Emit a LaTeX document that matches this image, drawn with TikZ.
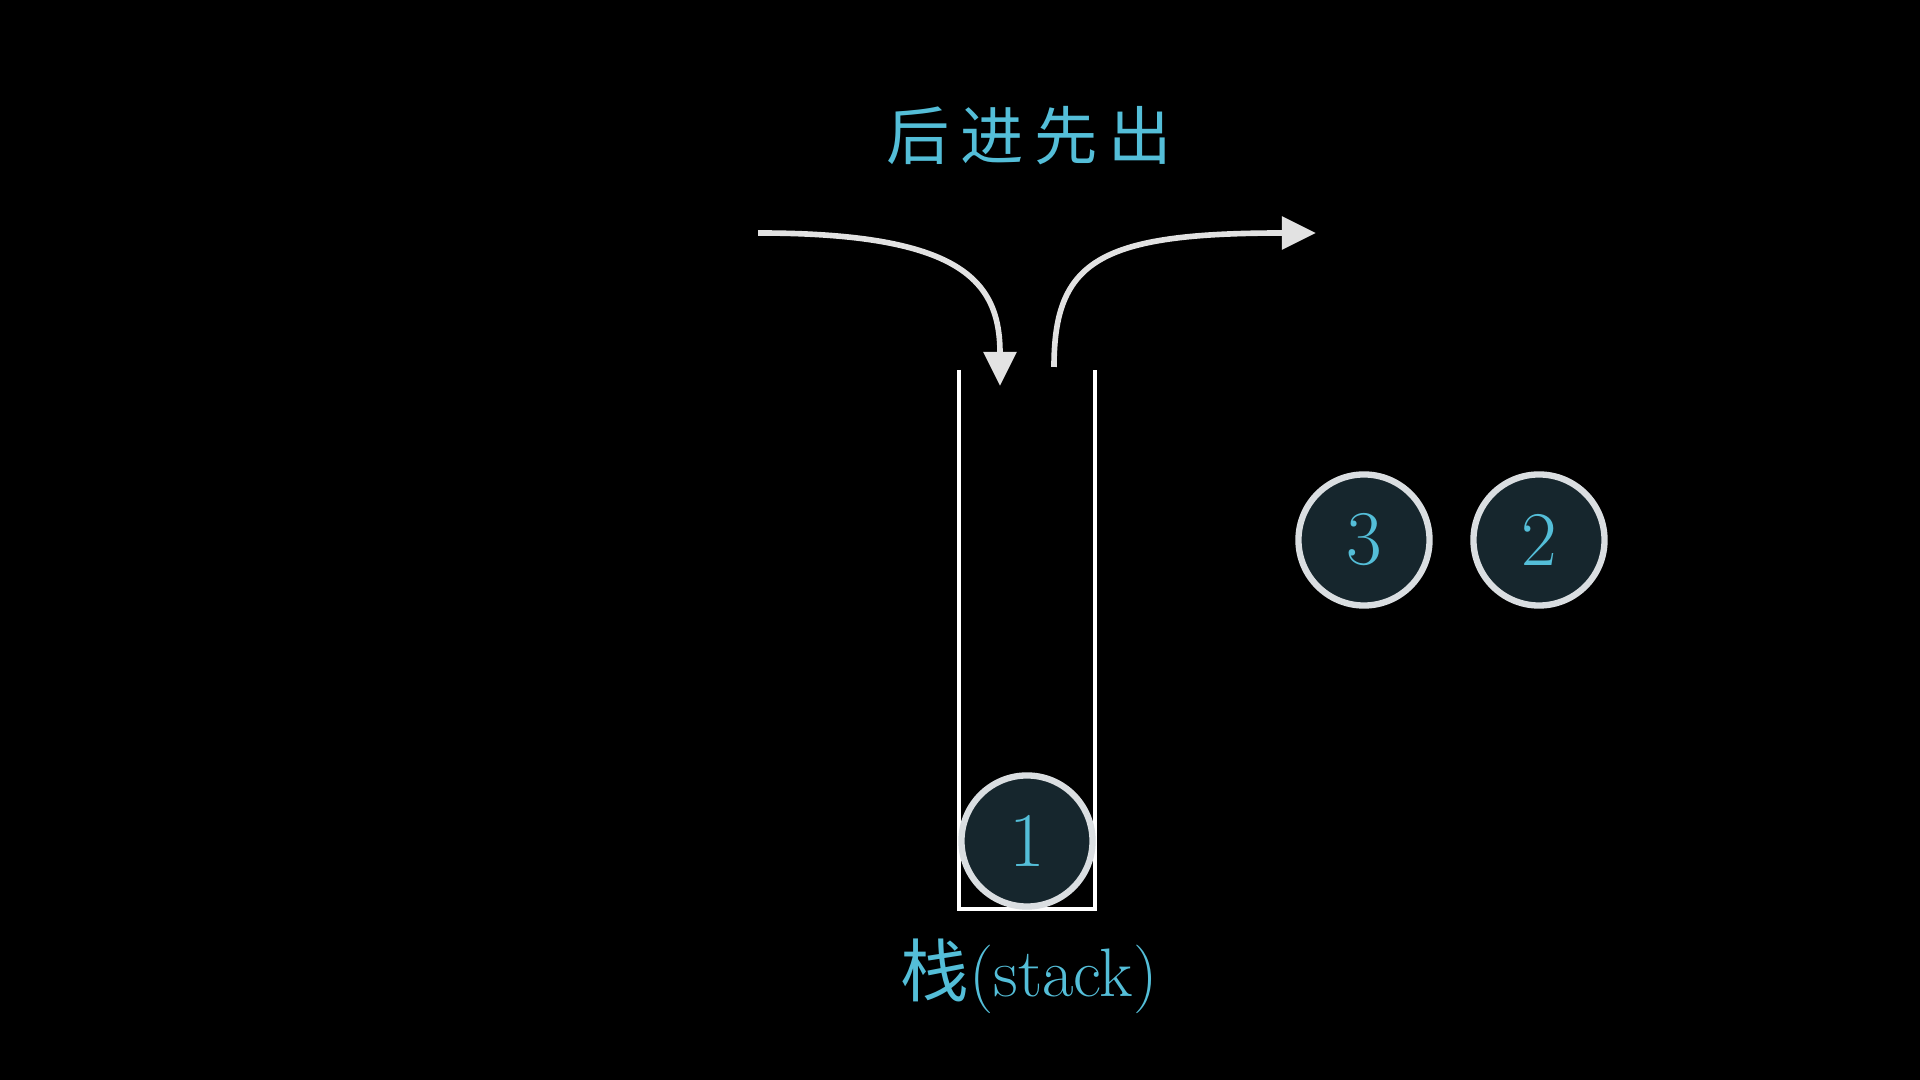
\documentclass[tikz,border=0pt]{standalone}
\usepackage{fontspec}
\newfontfamily\cjk{Noto Sans CJK SC}
\usetikzlibrary{arrows.meta}
\definecolor{txtcyan}{RGB}{84,190,216}
\definecolor{ballfill}{RGB}{22,38,45}
\definecolor{ballline}{RGB}{218,222,225}
\definecolor{arrowgray}{RGB}{226,226,226}
\tikzset{
  ball/.style={circle, draw=ballline, fill=ballfill, line width=1.8pt, minimum size=1.31cm, inner sep=0pt,
    text=txtcyan, font=\fontsize{22}{26}\selectfont},
  flow/.style={draw=arrowgray, line width=1.6pt},
  flowtip/.style={-{Triangle[length=0.34cm,width=0.32cm]}},
  wall/.style={draw=white, line width=1.3pt},
  lbltext/.style={text=txtcyan, inner sep=0pt}
}
\begin{document}
\begin{tikzpicture}[x=0.01cm, y=-0.01cm]
\fill[black] (0,0) rectangle (1920,1080);
\useasboundingbox (0,0) rectangle (1920,1080);
% title
\node[lbltext, font=\fontsize{18}{22}\selectfont] (title) at (1029,136) {\cjk 后\,进\,先\,出};
% stack container
\coordinate (wl) at (959,370);
\coordinate (wr) at (1095,370);
\draw[wall] (wl) -- (959,909) -- (1095,909) -- (wr);
% ball in stack
\node[ball] (c1) at (1027,841) {1};
% waiting balls
\node[ball] (c3) at (1364,540) {3};
\node[ball] (c2) at (1539,540) {2};
% label
\node[lbltext, font=\fontsize{19.5}{23}\selectfont] (lbl) at (1029,976) {{\cjk 栈}(stack)};
% arrows
\coordinate (inA) at (758,233);
\coordinate (inB) at (1000,386);
\coordinate (outA) at (1054,367);
\coordinate (outB) at (1316,233);
\draw[flow, flowtip] (inA) .. controls (960,233) and (1000,280) .. (inB);
\draw[flow, flowtip] (outA) .. controls (1054,260) and (1100,233) .. (outB);
\end{tikzpicture}
\end{document}
